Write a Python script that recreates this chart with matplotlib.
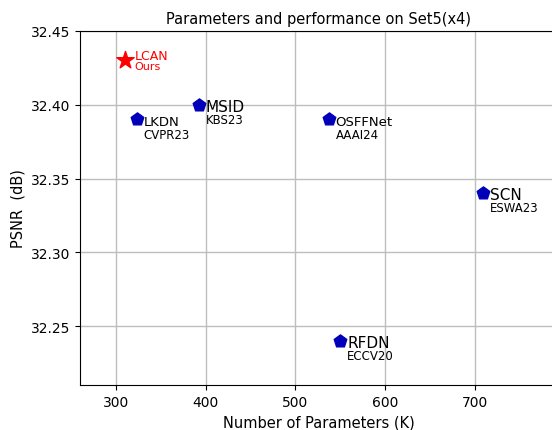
import matplotlib
matplotlib.use("Agg")
import matplotlib.pyplot as plt

methods = ["LKDN", "MSID", "OSFFNet", "SCN", "RFDN"]
venues = ["CVPR23", "KBS23", "AAAI24", "ESWA23", "ECCV20"]
params = [323, 392, 537, 709, 550]
psnr = [32.39, 32.40, 32.39, 32.34, 32.24]
name_sizes = [9.5, 11, 9.5, 11, 11]

ours_name = "LCAN"
ours_tag = "Ours"
ours_params = 310
ours_psnr = 32.43

fig = plt.figure(figsize=(5.52, 4.31), dpi=100)
ax = fig.add_axes([0.145, 0.104, 1.01 - 0.145, 0.822])

ax.grid(True, color="#bdbdbd", linewidth=1.0, zorder=0)
ax.set_axisbelow(True)

ax.scatter(params, psnr, marker="p", s=90, color="#0000bb", zorder=3)
for x, y, n, v, fs in zip(params, psnr, methods, venues, name_sizes):
    ax.annotate(n, (x, y), xytext=(5, -1.2), textcoords="offset points",
                ha="left", va="center", fontsize=fs, color="black")
    ax.annotate(v, (x, y), xytext=(5, -10.5), textcoords="offset points",
                ha="left", va="center", fontsize=8.5, color="black")

ax.scatter([ours_params], [ours_psnr], marker="*", s=170, color="red", zorder=3)
ax.annotate(ours_name, (ours_params, ours_psnr), xytext=(7, 3.6), textcoords="offset points",
            ha="left", va="center", fontsize=9, color="red")
ax.annotate(ours_tag, (ours_params, ours_psnr), xytext=(7, -4), textcoords="offset points",
            ha="left", va="center", fontsize=8, color="red")

ax.set_xlim(260, 792)
ax.set_ylim(32.21, 32.45)
ax.set_xticks([300, 400, 500, 600, 700])
ax.set_yticks([32.25, 32.30, 32.35, 32.40, 32.45])
ax.set_yticklabels(["32.25", "32.30", "32.35", "32.40", "32.45"])
ax.tick_params(labelsize=10)
ax.set_xlabel("Number of Parameters (K)", fontsize=10.5)
ax.set_ylabel("PSNR  (dB)", fontsize=10.5)
ax.set_title("Parameters and performance on Set5(x4)", fontsize=10.5)

fig.savefig("out.png", dpi=100)
